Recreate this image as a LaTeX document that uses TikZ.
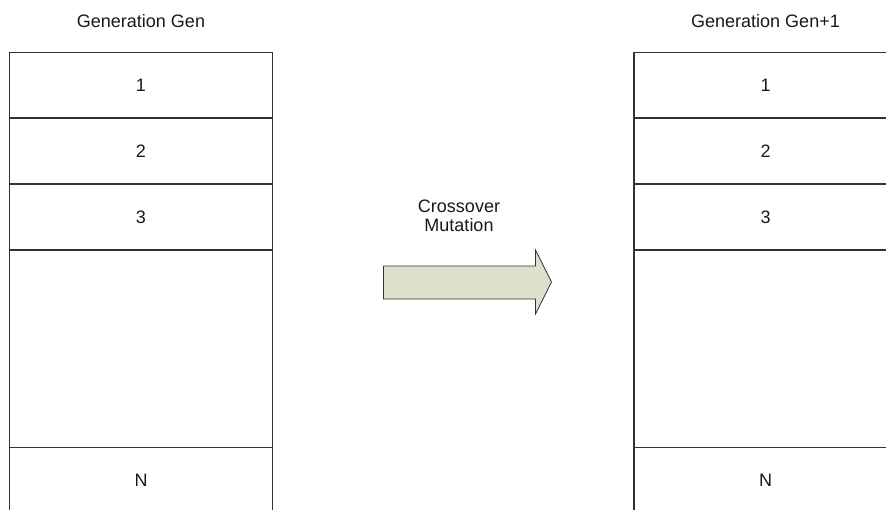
\documentclass[tikz,border=0pt]{standalone}
\usepackage{fontspec}
\setmainfont{Liberation Sans}
\definecolor{linegray}{RGB}{50,50,50}
\definecolor{arrowfill}{RGB}{221,225,204}
\definecolor{textcol}{RGB}{25,25,25}
\begin{document}
\begin{tikzpicture}[x=1pt,y=-1pt,
  cell/.style={draw=linegray, line width=1.1pt, minimum width=263pt, minimum height=#1,
    anchor=north, inner sep=0pt, outer sep=0pt, font=\fontsize{18}{19}\selectfont, text=textcol},
  title/.style={font=\fontsize{18}{19}\selectfont, text=textcol, inner sep=0pt},
  bigarrow/.style={draw=linegray, line width=0.7pt, fill=arrowfill, line join=miter}]
\useasboundingbox (0,0) rectangle (886,510);
\clip (0,0) rectangle (886,510);
% titles
\node[title] (tl) at (141,21.5) {Generation Gen};
\node[title] (tr) at (765.5,21.5) {Generation Gen+1};
% left column
\node[cell=65.5pt] (l1) at (141,52.5) {1};
\node[cell=66pt] (l2) at (141,118) {2};
\node[cell=66pt] (l3) at (141,184) {3};
\node[cell=197.5pt] (lg) at (141,250) {};
\node[cell=65.5pt] (lN) at (141,447.5) {N};
% right column
\node[cell=65.5pt] (r1) at (765.5,52.5) {1};
\node[cell=66pt] (r2) at (765.5,118) {2};
\node[cell=66pt] (r3) at (765.5,184) {3};
\node[cell=197.5pt] (rg) at (765.5,250) {};
\node[cell=65.5pt] (rN) at (765.5,447.5) {N};
% arrow
\coordinate (as) at (383.5,282);
\coordinate (at) at (551.5,282);
\draw[bigarrow] (383.5,266) -- (535.5,266) -- (535.5,250) -- (at) -- (535.5,314)
  -- (535.5,299) -- (383.5,299) -- cycle;
\node[title, align=center] (lab) at (459,215.5) {Crossover\\Mutation};
\end{tikzpicture}
\end{document}
